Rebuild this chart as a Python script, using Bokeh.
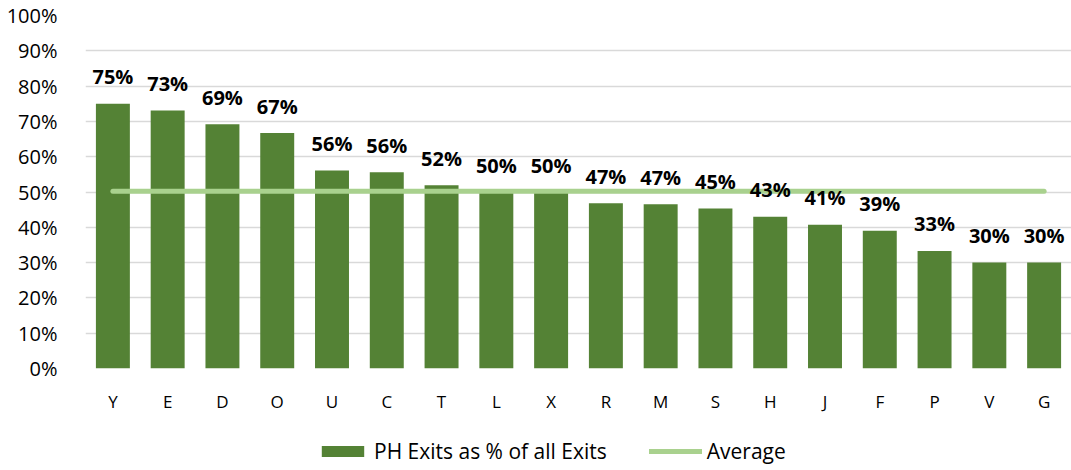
from bokeh.plotting import figure
from bokeh.layouts import column
from bokeh.models import FactorRange, Range1d, Legend, LegendItem, PrintfTickFormatter, ColumnDataSource, FixedTicker
from bokeh.core.properties import value
from bokeh.embed import file_html
from bokeh.resources import INLINE

categories = ["Y", "E", "D", "O", "U", "C", "T", "L", "X", "R", "M", "S", "H", "J", "F", "P", "V", "G"]
ph_exits_pct = [75.0, 73.1, 69.2, 66.7, 56.1, 55.6, 51.9, 50.0, 50.0, 46.8, 46.5, 45.3, 43.0, 40.7, 39.0, 33.3, 30.0, 30.0]
labels = ["75%", "73%", "69%", "67%", "56%", "56%", "52%", "50%", "50%", "47%", "47%", "45%", "43%", "41%", "39%", "33%", "30%", "30%"]
average_pct = 50.2
y_ticks = [0, 10, 20, 30, 40, 50, 60, 70, 80, 90, 100]
series_names = ["PH Exits as % of all Exits", "Average"]

FONT = "Open Sans"
BAR = "#548235"
AVG = "#A9D18E"

p = figure(x_range=FactorRange(*categories, range_padding=0), y_range=Range1d(0, 100),
           width=1071, height=425, output_backend="svg", toolbar_location=None,
           min_border_left=85, min_border_right=0, min_border_top=15, min_border_bottom=57)
p.outline_line_color = None
p.background_fill_color = "white"
p.border_fill_color = "white"

src = ColumnDataSource(dict(cat=categories, val=ph_exits_pct, lab=labels))
bars = p.vbar(x="cat", top="val", width=0.62, source=src, fill_color=BAR, line_color=None)
avg_line = p.line(x=[categories[0], categories[-1]], y=[average_pct, average_pct],
                  line_color=AVG, line_width=5, line_cap="round")
p.text(x="cat", y="val", text="lab", source=src, text_align="center", text_baseline="alphabetic",
       y_offset=-27, text_font=value(FONT), text_font_style="bold", text_font_size="20px", text_color="black")

p.xgrid.grid_line_color = None
p.ygrid.grid_line_color = "#D9D9D9"
p.ygrid.grid_line_width = 1.5
p.yaxis.ticker = FixedTicker(ticks=y_ticks)
p.yaxis.formatter = PrintfTickFormatter(format="%d%%")
for ax in (p.xaxis, p.yaxis):
    ax.axis_line_color = None
    ax.major_tick_line_color = None
    ax.minor_tick_line_color = None
    ax.major_label_text_font = FONT
    ax.major_label_text_color = "#000000"
p.yaxis.major_label_text_font_size = "20px"
p.yaxis.major_label_standoff = 22
p.xaxis.major_label_text_font_size = "17px"
p.xaxis.major_label_standoff = 15

# legend strip below the chart (its renderers sit outside the strip's visible range)
lg = figure(width=1071, height=45, output_backend="svg", toolbar_location=None,
            x_range=Range1d(0, 1), y_range=Range1d(0, 1),
            min_border_left=0, min_border_right=0, min_border_top=0, min_border_bottom=0)
lg.axis.visible = False
lg.grid.visible = False
lg.outline_line_color = None
lg.border_fill_color = "white"
lg_bar = lg.vbar(x=[-10], top=[-10], bottom=[-11], width=0.5, fill_color=BAR, line_color=None)
lg_line = lg.line(x=[-10, -9], y=[-10, -10], line_color=AVG, line_width=5, line_cap="round")
legend = Legend(items=[LegendItem(label=series_names[0], renderers=[lg_bar]),
                       LegendItem(label=series_names[1], renderers=[lg_line])],
                orientation="horizontal", location=(231, 5),
                label_text_font=FONT, label_text_font_size="21px", label_text_color="#000000",
                glyph_width=53, glyph_height=14, label_standoff=5, spacing=42,
                border_line_color=None, background_fill_alpha=0, padding=0, margin=0)
lg.add_layout(legend)

layout = column(p, lg, spacing=0)
open("out.html", "w").write(file_html(layout, INLINE))
